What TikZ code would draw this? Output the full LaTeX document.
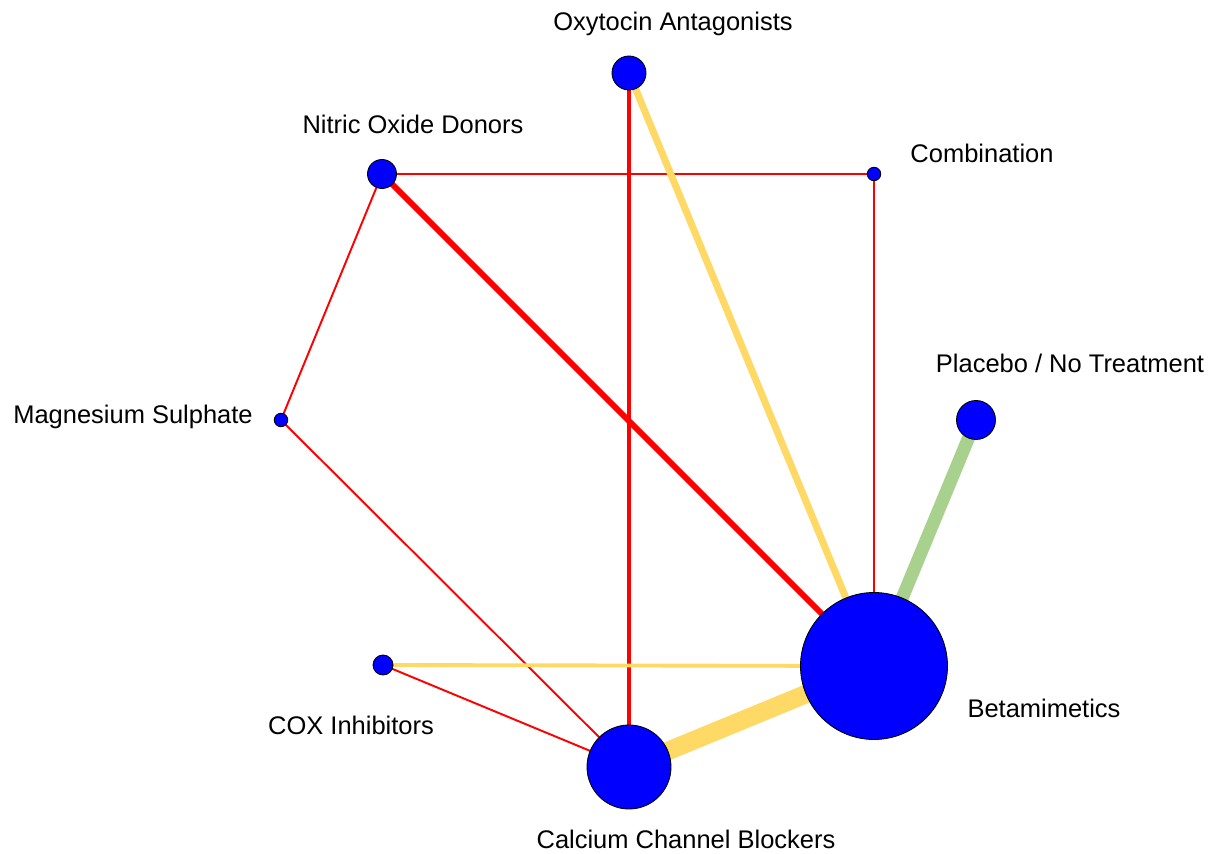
\documentclass[tikz,border=0pt]{standalone}
\usepackage{fontspec}
\setmainfont{Liberation Sans}
\usetikzlibrary{positioning,backgrounds}

\definecolor{netBlue}{RGB}{0,0,255}
\definecolor{netRed}{RGB}{255,0,0}
\definecolor{netYellow}{RGB}{255,217,102}
\definecolor{netGreen}{RGB}{169,209,142}

\begin{document}
\begin{tikzpicture}[
    x=0.02cm, y=-0.02cm,
    font=\fontsize{14.5}{17}\selectfont,
    drug/.style={
        circle, draw=black, line width=0.5pt, fill=netBlue, inner sep=0pt
    },
    drugLabel/.style={
        anchor=base, inner sep=0pt, text=black
    },
    redEdge/.style={
        draw=netRed, line width=1.1pt
    },
    yellowEdge/.style={
        draw=netYellow
    },
    greenEdge/.style={
        draw=netGreen
    }
]

% Canvas
\useasboundingbox (0,0) rectangle (1218,854);

% Treatment nodes (size ~ number of patients)
\node[drug, minimum size=0.68cm] (oxy) at (629,73) {};
\node[drug, minimum size=0.58cm] (nitric) at (382,174) {};
\node[drug, minimum size=0.27cm] (combi) at (874,174) {};
\node[drug, minimum size=0.78cm] (placebo) at (976,420) {};
\node[drug, minimum size=0.27cm] (magnes) at (281,420) {};
\node[drug, minimum size=0.40cm] (cox) at (383,665) {};
\node[drug, minimum size=2.94cm] (beta) at (874,666) {};
\node[drug, minimum size=1.68cm] (ccb) at (629,767) {};

% Labels
\node[drugLabel] (lblOxy) at (673,31) {Oxytocin Antagonists};
\node[drugLabel] (lblNitric) at (413,134) {Nitric Oxide Donors};
\node[drugLabel] (lblCombi) at (982,163) {Combination};
\node[drugLabel] (lblPlacebo) at (1070,373) {Placebo / No Treatment};
\node[drugLabel] (lblMagnes) at (133,424) {Magnesium Sulphate};
\node[drugLabel] (lblCox) at (351,735) {COX Inhibitors};
\node[drugLabel] (lblBeta) at (1044,718) {Betamimetics};
\node[drugLabel] (lblCcb) at (686,848) {Calcium Channel Blockers};

% Direct comparisons (width ~ number of trials)
\begin{scope}[on background layer]
    \draw[redEdge] (nitric.center) -- (combi.center);
    \draw[redEdge] (nitric.center) -- (magnes.center);
    \draw[redEdge] (magnes.center) -- (ccb.center);
    \draw[redEdge] (cox.center) -- (ccb.center);
    \draw[redEdge] (combi.center) -- (beta.center);
    \draw[redEdge, line width=2.6pt] (oxy.center) -- (ccb.center);
    \draw[redEdge, line width=3.4pt] (nitric.center) -- (beta.center);
    \draw[yellowEdge, line width=4pt] (oxy.center) -- (beta.center);
    \draw[yellowEdge, line width=2.2pt] (cox.center) -- (beta.center);
    \draw[yellowEdge, line width=10.5pt] (ccb.center) -- (beta.center);
    \draw[greenEdge, line width=7.4pt] (placebo.center) -- (beta.center);
\end{scope}

\end{tikzpicture}
\end{document}
